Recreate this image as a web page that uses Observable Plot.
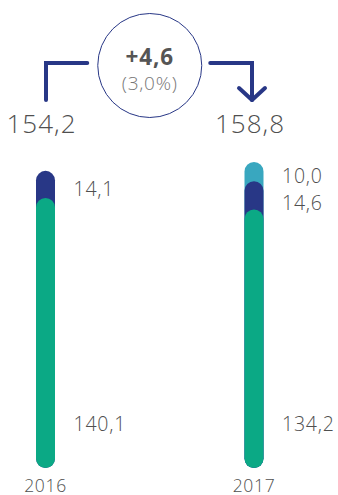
<!DOCTYPE html>
<html>
<head>
<meta charset="utf-8">
<script src="https://cdn.jsdelivr.net/npm/d3@7"></script>
<script src="https://cdn.jsdelivr.net/npm/@observablehq/plot@0.6"></script>
<style>
  html, body { margin: 0; padding: 0; background: #fff; }
  #chart { width: 338px; height: 495px; }
  #chart svg text { letter-spacing: 0.04em; }
</style>
</head>
<body>
<div id="chart"></div>
<script>
// ---- data ----
const years = [2016, 2017];
const seriesNames = ["base", "second", "third"];
const baseValues = [140.1, 134.2];
const secondValues = [14.1, 14.6];
const thirdValues = [null, 10.0];
const totals = [154.2, 158.8];
const colors = ["#0ba985", "#283786", "#39a7bf"];

// ---- derived ----
const fmt = v => d3.format(".1f")(v).replace(".", ",");
const series = [baseValues, secondValues, thirdValues];
const rows = [];
years.forEach((year, i) => {
  let cum = 0;
  series.forEach((vals, s) => {
    const v = vals[i];
    if (v == null) return;
    rows.push({year, series: seriesNames[s], value: v, y1: cum, top: cum + v, mid: cum + v / 2});
    cum += v;
  });
});
// draw tallest first so shorter segments sit on top
const barRows = rows.slice().sort((a, b) => b.top - a.top);

// value labels: base labels near bar bottom, others beside their segment
const baseLabels = rows.filter(d => d.series === "base");
const upperLabels = [];
years.forEach(year => {
  const r = rows.filter(d => d.year === year && d.series !== "base").sort((a, b) => b.mid - a.mid);
  let prev = Infinity;
  r.forEach(d => {
    const ly = Math.min(d.mid, prev - 14);
    upperLabels.push({...d, ly});
    prev = ly;
  });
});

const change = totals[1] - totals[0];
const changeLabel = (change >= 0 ? "+" : "") + fmt(change);
const pctLabel = "(" + fmt(change / totals[0] * 100) + "%)";
const midYear = (years[0] + years[1]) / 2;
const navy = colors[1];
const textColor = "#4f4f4f";
const font = "Open Sans";

const connectors = (index, scales) => {
  const x0 = scales.x(years[0]), x1 = scales.x(years[1]);
  const cx = (x0 + x1) / 2;
  const top = 63, bot = 100;
  const g = d3.create("svg:g")
    .attr("fill", "none")
    .attr("stroke", navy)
    .attr("stroke-width", 4)
    .attr("stroke-linecap", "round")
    .attr("stroke-linejoin", "miter");
  g.append("path").attr("d", `M${x0 + 1},${bot}V${top}H${cx - 62}`);
  g.append("path").attr("d", `M${cx + 61},${top}H${x1 - 1.5}V${bot}`);
  g.append("path").attr("stroke-linejoin", "round")
    .attr("d", `M${x1 - 14.5},${bot - 12}L${x1 - 1.5},${bot}L${x1 + 11.5},${bot - 12}`);
  return g.node();
};

const chart = Plot.plot({
  width: 338,
  height: 495,
  marginTop: 0, marginRight: 0, marginBottom: 0, marginLeft: 0,
  style: {fontFamily: font, background: "#fff", color: textColor},
  x: {type: "linear", domain: years, range: [45, 253.5], axis: null},
  y: {domain: [0, totals[1]], range: [468, 162], axis: null},
  color: {domain: seriesNames, range: colors},
  marks: [
    Plot.ruleX(barRows, {
      x: "year", y1: "top", y2: 0, stroke: "series",
      strokeWidth: 19, strokeLinecap: "round", insetTop: 9.5, insetBottom: 9.5
    }),
    Plot.text(baseLabels, {
      x: "year", y: 0, dy: -44, dx: 28, text: d => fmt(d.value),
      textAnchor: "start", fontSize: 19.5, fontWeight: 300, fill: textColor
    }),
    Plot.text(upperLabels, {
      x: "year", y: "ly", dy: 5, dx: 28, text: d => fmt(d.value),
      textAnchor: "start", fontSize: 19.5, fontWeight: 300, fill: textColor
    }),
    Plot.text(years, {
      x: d => d, y: 0, dy: 17.5, text: d => String(d),
      fontSize: 17.5, fontWeight: 300, fill: textColor
    }),
    Plot.text(years.map((y, i) => ({year: y, total: totals[i]})), {
      x: "year", frameAnchor: "top", lineAnchor: "middle", dy: 124, dx: -4,
      text: d => fmt(d.total), fontSize: 26, fontWeight: 300, fill: textColor
    }),
    connectors,
    Plot.dot([midYear], {
      x: d => d, frameAnchor: "top", dy: 65, r: 52,
      stroke: navy, strokeWidth: 1, fill: "none"
    }),
    Plot.text([changeLabel], {
      x: () => midYear, frameAnchor: "top", lineAnchor: "middle", dy: 57, text: d => d,
      fontSize: 22.5, fontWeight: "bold", fill: "#555"
    }),
    Plot.text([pctLabel], {
      x: () => midYear, frameAnchor: "top", lineAnchor: "middle", dy: 83, text: d => d,
      fontSize: 19, fontWeight: 300, fill: "#777"
    })
  ]
});
document.getElementById("chart").appendChild(chart);
</script>
</body>
</html>
